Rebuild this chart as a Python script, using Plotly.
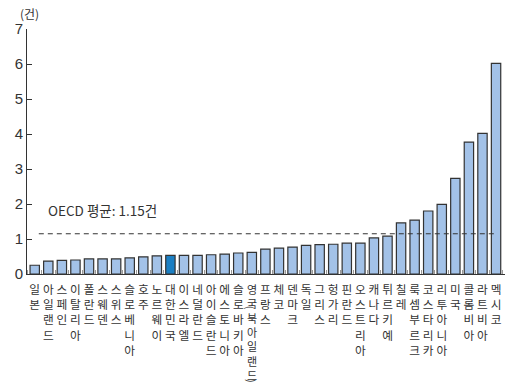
import plotly.graph_objects as go

# Countries (vertical labels) and values in 건
countries = [
    "일본", "아일랜드", "스페인", "이탈리아", "폴란드", "스웨덴", "스위스",
    "슬로베니아", "호주", "노르웨이", "대한민국", "이스라엘", "네덜란드",
    "아이슬란드", "에스토니아", "슬로바키아", "영국(북아일랜드)", "프랑스", "체코",
    "덴마크", "독일", "그리스", "헝가리", "핀란드", "오스트리아", "캐나다",
    "튀르키예", "칠레", "룩셈부르크", "코스타리카", "리투아니아", "미국",
    "콜롬비아", "라트비아", "멕시코",
]
values = [
    0.25, 0.37, 0.39, 0.40, 0.43, 0.43, 0.43,
    0.46, 0.49, 0.52, 0.53, 0.53, 0.53,
    0.55, 0.57, 0.60, 0.62, 0.71, 0.74,
    0.77, 0.82, 0.84, 0.85, 0.88, 0.88, 1.03,
    1.08, 1.46, 1.54, 1.80, 1.99, 2.73,
    3.77, 4.02, 6.02,
]
highlight = "대한민국"
oecd_avg = 1.15
y_ticks = [0, 1, 2, 3, 4, 5, 6, 7]

LIGHT = "#a3c2e8"
DARK = "#1b7fc3"
INK = "#333333"
KR_FONT = "Noto Sans CJK KR"

positions = list(range(len(countries)))
colors = [DARK if c == highlight else LIGHT for c in countries]


def vertical(name):
    """Stack the characters of a name one per line (parentheses handled apart)."""
    return "<br>".join(ch for ch in name if ch not in "()")


# the long UK name is stacked separately with its parentheses turned sideways
long_name = "영국(북아일랜드)"
labels = ["" if c == long_name else vertical(c) for c in countries]

fig = go.Figure()
fig.add_trace(go.Bar(
    x=positions, y=values,
    marker=dict(color=colors, line=dict(color=INK, width=1.2)),
    width=0.69,
    hoverinfo="skip",
))

# OECD average reference line
fig.add_shape(type="line", xref="x", yref="y",
              x0=0.3, x1=34.1, y0=oecd_avg, y1=oecd_avg,
              line=dict(color=INK, width=1, dash="5px,4px"))
fig.add_annotation(x=0.85, y=1.83, xref="x", yref="y", xanchor="left",
                   text=f"OECD 평균: {oecd_avg}건", showarrow=False,
                   font=dict(family=KR_FONT, size=13.5, color=INK))

# unit label
fig.add_annotation(x=0.006, y=1.065, xref="paper", yref="paper",
                   xanchor="center", yanchor="middle",
                   text="(건)", showarrow=False,
                   font=dict(family=KR_FONT, size=12, color=INK))

# stacked UK label
idx_uk = countries.index(long_name)
fig.add_annotation(x=idx_uk, y=-0.022, xref="x", yref="paper",
                   xanchor="center", yanchor="top",
                   text=vertical(long_name), showarrow=False,
                   font=dict(family=KR_FONT, size=11, color=INK))
fig.add_annotation(x=idx_uk, y=-0.137, xref="x", yref="paper",
                   text="(", textangle=90, showarrow=False,
                   xanchor="center", yanchor="middle",
                   font=dict(family=KR_FONT, size=11, color=INK))
fig.add_annotation(x=idx_uk, y=-0.436, xref="x", yref="paper",
                   text=")", textangle=90, showarrow=False,
                   xanchor="center", yanchor="middle",
                   font=dict(family=KR_FONT, size=11, color=INK))

fig.update_layout(
    width=506, height=390,
    margin=dict(l=27, r=1, t=29, b=116),
    paper_bgcolor="white", plot_bgcolor="white",
    showlegend=False,
)
fig.update_xaxes(
    range=[-0.57, 34.66],
    tickmode="array", tickvals=positions, ticktext=labels,
    showline=True, linecolor=INK, linewidth=1,
    ticks="", ticklen=0, ticklabelstandoff=5,
    minor=dict(ticks="inside", tick0=-0.5, dtick=1, ticklen=4,
               tickcolor="#999999", showgrid=False),
    tickfont=dict(family=KR_FONT, size=11.7, color=INK),
    tickangle=0, showgrid=False, zeroline=False,
)
fig.update_yaxes(
    range=[0, 7], tickvals=y_ticks,
    showline=True, linecolor=INK, linewidth=1,
    ticks="inside", ticklen=5, tickcolor=INK,
    tickfont=dict(family="Liberation Sans", size=15, color=INK),
    showgrid=False, zeroline=False,
)

fig.write_html("out.html")
